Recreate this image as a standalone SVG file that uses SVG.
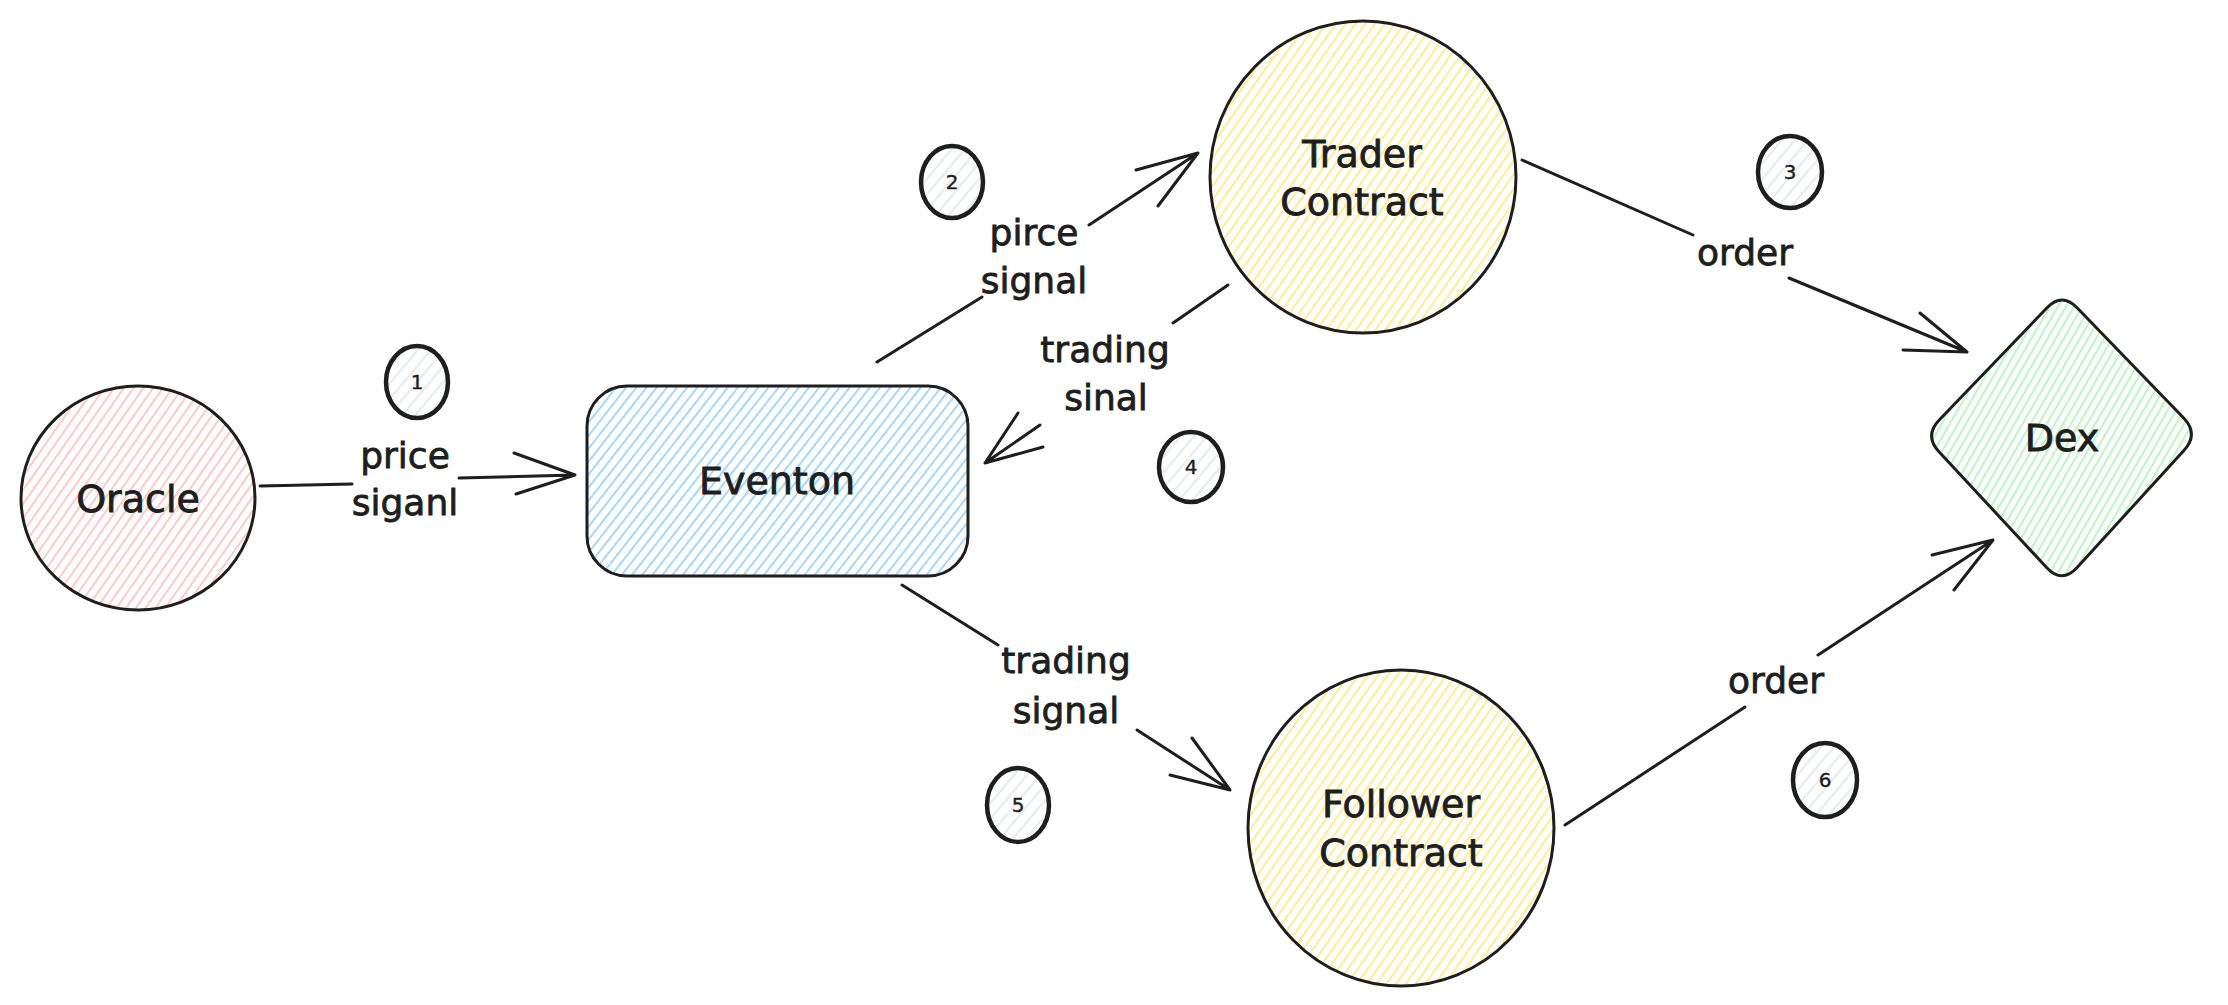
<svg xmlns="http://www.w3.org/2000/svg" width="2228" height="1005" viewBox="0 0 2228 1005">
<defs>
<pattern id="hRed" patternUnits="userSpaceOnUse" width="8" height="8" patternTransform="rotate(35)"><line x1="4" y1="0" x2="4" y2="8" stroke="#ffc9c9" stroke-width="2"/></pattern>
<pattern id="hBlue" patternUnits="userSpaceOnUse" width="8" height="8" patternTransform="rotate(38)"><line x1="4" y1="0" x2="4" y2="8" stroke="#a5d8ff" stroke-width="2"/></pattern>
<pattern id="hYellow" patternUnits="userSpaceOnUse" width="8" height="8" patternTransform="rotate(35)"><line x1="4" y1="0" x2="4" y2="8" stroke="#ffec99" stroke-width="2.2"/></pattern>
<pattern id="hGreen" patternUnits="userSpaceOnUse" width="7" height="7" patternTransform="rotate(30)"><line x1="3.5" y1="0" x2="3.5" y2="7" stroke="#b2f2bb" stroke-width="1.8"/></pattern>
<pattern id="hGray" patternUnits="userSpaceOnUse" width="10" height="10" patternTransform="rotate(40)"><line x1="5" y1="0" x2="5" y2="10" stroke="#e9ecef" stroke-width="2.5"/></pattern>
</defs>
<style>
.node{stroke:#1e1e1e;stroke-width:3;stroke-linejoin:round}
.num{stroke:#1e1e1e;stroke-width:4.5;fill:url(#hGray)}
.lbl{font-family:"DejaVu Sans",sans-serif;font-size:38px;fill:#1e1e1e;stroke:#1e1e1e;stroke-width:0.9;text-anchor:middle}
.elbl{font-family:"DejaVu Sans",sans-serif;font-size:36px;fill:#1e1e1e;stroke:#1e1e1e;stroke-width:0.8;text-anchor:middle}
.nlbl{font-family:"DejaVu Sans",sans-serif;font-size:20px;fill:#1e1e1e;stroke:#1e1e1e;stroke-width:0.4;text-anchor:middle}
.edge{fill:none;stroke:#1e1e1e;stroke-width:3;stroke-linecap:round;stroke-linejoin:round}
</style>
<rect width="2228" height="1005" fill="#ffffff"/>

<g id="connectors">
<g id="e1">
<path class="edge" d="M260 486 L352 484 M459 478 L575 475 M514 453 L575 475 L516 494"/>
<text class="elbl" x="405" y="468">price</text>
<text class="elbl" x="405" y="515">siganl</text>
</g>
<g id="e2">
<path class="edge" d="M877 362 L982 297 M1089 225 L1198 153 M1136 170 L1198 153 L1158 206"/>
<text class="elbl" x="1034" y="245">pirce</text>
<text class="elbl" x="1034" y="293">signal</text>
</g>
<g id="e3">
<path class="edge" d="M1522 160 L1693 235 M1789 278 L1967 352 M1920 313 L1967 352 L1903 350"/>
<text class="elbl" x="1745" y="265">order</text>
</g>
<g id="e4">
<path class="edge" d="M1228 285 L1173 323 M1040 425 L985 463 M1018 413 L985 463 L1043 447"/>
<text class="elbl" x="1105" y="362">trading</text>
<text class="elbl" x="1106" y="410">sinal</text>
</g>
<g id="e5">
<path class="edge" d="M902 585 L998 645 M1137 730 L1230 790 M1192 738 L1230 790 L1170 775"/>
<text class="elbl" x="1066" y="673">trading</text>
<text class="elbl" x="1066" y="723">signal</text>
</g>
<g id="e6">
<path class="edge" d="M1565 825 L1745 707 M1818 655 L1993 540 M1932 555 L1993 540 L1954 590"/>
<text class="elbl" x="1776" y="693">order</text>
</g>
</g>

<g id="oracle">
<ellipse class="node" cx="138" cy="498" rx="117" ry="112" fill="url(#hRed)"/>
<text class="lbl" x="138" y="512">Oracle</text>
</g>
<g id="eventon">
<rect class="node" x="587" y="386" width="381" height="190" rx="40" ry="40" fill="url(#hBlue)"/>
<text class="lbl" x="777" y="494">Eventon</text>
</g>
<g id="trader">
<ellipse class="node" cx="1363" cy="177" rx="153" ry="156" fill="url(#hYellow)"/>
<text class="lbl" x="1362" y="167">Trader</text>
<text class="lbl" x="1362" y="215">Contract</text>
</g>
<g id="follower">
<ellipse class="node" cx="1401" cy="828" rx="153" ry="158" fill="url(#hYellow)"/>
<text class="lbl" x="1401" y="817">Follower</text>
<text class="lbl" x="1401" y="866">Contract</text>
</g>
<g id="dex">
<path class="node" fill="url(#hGreen)" d="M2077.3 308 L2183.7 418 Q2199 434 2183.9 450.5 L2077.1 567.5 Q2062 584 2046.8 567.7 L1939.2 452 Q1924 436 1939.2 420 L2046.8 308 Q2062 292 2077.3 308 Z"/>
<text class="lbl" x="2062" y="451">Dex</text>
</g>

<g id="step1"><ellipse class="num" cx="417" cy="382" rx="31" ry="36"/><text class="nlbl" x="417" y="389">1</text></g>
<g id="step2"><ellipse class="num" cx="952" cy="182" rx="31" ry="36"/><text class="nlbl" x="952" y="189">2</text></g>
<g id="step3"><ellipse class="num" cx="1790" cy="172" rx="32" ry="36"/><text class="nlbl" x="1790" y="179">3</text></g>
<g id="step4"><ellipse class="num" cx="1191" cy="467" rx="32" ry="35"/><text class="nlbl" x="1191" y="474">4</text></g>
<g id="step5"><ellipse class="num" cx="1018" cy="805" rx="31" ry="37"/><text class="nlbl" x="1018" y="812">5</text></g>
<g id="step6"><ellipse class="num" cx="1825" cy="780" rx="32" ry="37"/><text class="nlbl" x="1825" y="787">6</text></g>
</svg>
